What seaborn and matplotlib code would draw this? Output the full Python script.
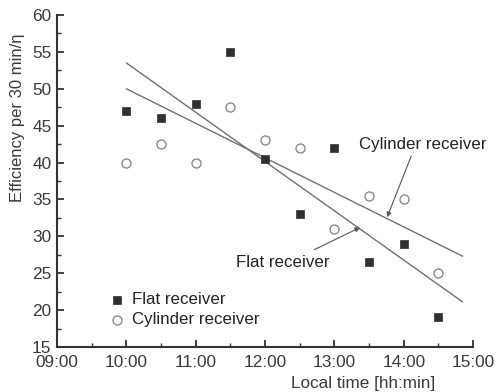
import matplotlib
matplotlib.use("Agg")
import matplotlib.pyplot as plt
import seaborn as sns
import pandas as pd
from matplotlib.ticker import MultipleLocator

# ---- data (hours of local time) ----
times = [10.0, 10.5, 11.0, 11.5, 12.0, 12.5, 13.0, 13.5, 14.0, 14.5]
flat_eff = [47, 46, 48, 55, 40.5, 33, 42, 26.5, 29, 19]
cyl_eff = [40, 42.5, 40, 47.5, 43, 42, 31, 35.5, 35, 25]
trend_x = [10.0, 14.85]
flat_trend = [53.5, 21.1]
cyl_trend = [50.0, 27.3]
xticks = [9, 10, 11, 12, 13, 14, 15]
xtick_labels = ["09:00", "10:00", "11:00", "12:00", "13:00", "14:00", "15:00"]
yticks = [15, 20, 25, 30, 35, 40, 45, 50, 55, 60]

sns.set_style("ticks")
plt.rcParams['font.family'] = ['Liberation Sans', 'DejaVu Sans']

fig = plt.figure(figsize=(4.98, 3.92), dpi=100)
ax = fig.add_axes([0.1145, 0.1148, 0.8355, 0.8469])

df_flat = pd.DataFrame({"t": times, "eff": flat_eff})
df_cyl = pd.DataFrame({"t": times, "eff": cyl_eff})
df_tf = pd.DataFrame({"t": trend_x, "eff": flat_trend})
df_tc = pd.DataFrame({"t": trend_x, "eff": cyl_trend})

sns.lineplot(data=df_tf, x="t", y="eff", ax=ax, color="#707070", lw=1.0, zorder=1)
sns.lineplot(data=df_tc, x="t", y="eff", ax=ax, color="#707070", lw=1.0, zorder=1)

sns.scatterplot(data=df_flat, x="t", y="eff", ax=ax, marker="s", s=30,
                color="#303030", edgecolor="#303030", linewidth=0.5,
                label="Flat receiver", zorder=3)
sns.scatterplot(data=df_cyl, x="t", y="eff", ax=ax, marker="o", s=42,
                facecolor="white", edgecolor="#8a8a8a", linewidth=1.0,
                label="Cylinder receiver", zorder=3)

ax.set_xlim(9, 15)
ax.set_ylim(15, 60)
ax.set_xticks(xticks)
ax.set_xticklabels(xtick_labels)
ax.set_yticks(yticks)
ax.xaxis.set_minor_locator(MultipleLocator(0.5))
ax.yaxis.set_minor_locator(MultipleLocator(2.5))
ax.tick_params(which="major", direction="in", length=5, width=1.3,
               labelsize=12.4, colors="#333333")
ax.tick_params(axis="y", which="major", pad=4)
ax.tick_params(axis="x", which="major", pad=6)
ax.tick_params(which="minor", direction="in", length=3, width=1.0, colors="#333333")
for lab in ax.get_xticklabels() + ax.get_yticklabels():
    lab.set_color("#3a3a3a")
sns.despine(ax=ax)
for s in ["left", "bottom"]:
    ax.spines[s].set_linewidth(1.5)
    ax.spines[s].set_color("#333333")

ax.set_xlabel("Local time [hh:min]", fontsize=12.3, color="#3a3a3a")
ax.xaxis.set_label_coords(0.735, -0.086)
ax.set_ylabel("Efficiency per 30 min/η", fontsize=12, color="#3a3a3a")
ax.yaxis.set_label_coords(-0.077, 0.69)

ax.annotate("Cylinder receiver", xy=(13.76, 32.6), xytext=(14.28, 42.5),
            fontsize=12.2, color="#222222", ha="center", va="center",
            arrowprops=dict(arrowstyle="-|>", color="#555555", lw=0.8,
                            mutation_scale=7, shrinkA=1, shrinkB=0,
                            relpos=(0.42, 0.0)))
ax.annotate("Flat receiver", xy=(13.37, 31.2), xytext=(12.25, 26.5),
            fontsize=12.2, color="#222222", ha="center", va="center",
            arrowprops=dict(arrowstyle="-|>", color="#555555", lw=0.8,
                            mutation_scale=7, shrinkA=3, shrinkB=0,
                            relpos=(0.73, 1.0)))

leg = ax.legend(loc="upper left", bbox_to_anchor=(0.127, 0.165), frameon=False,
                fontsize=12.2, handletextpad=0.5, borderaxespad=0,
                borderpad=0, labelspacing=0.3, handlelength=0.8)
for t in leg.get_texts():
    t.set_color("#222222")

fig.savefig("out.png", dpi=100)
